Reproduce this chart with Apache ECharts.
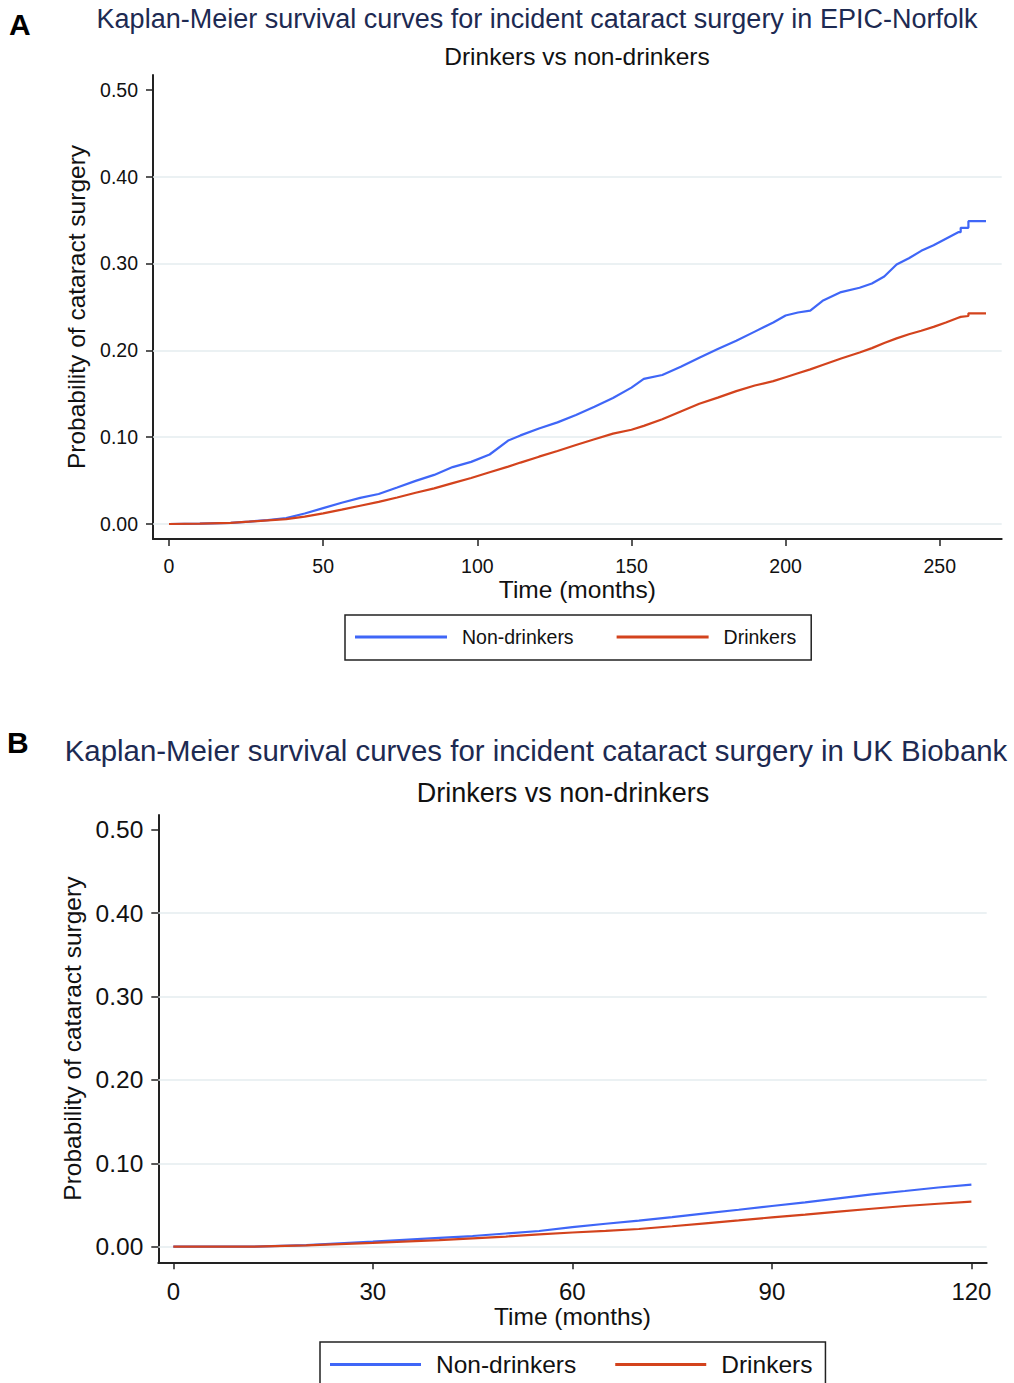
<!DOCTYPE html>
<html>
<head>
<meta charset="utf-8">
<script src="https://cdn.jsdelivr.net/npm/echarts@6/dist/echarts.min.js"></script>
<style>
html,body{margin:0;padding:0;background:#fff;}
#c{width:1014px;height:1383px;}
</style>
</head>
<body>
<div id="c"></div>
<script>
// ---------- Panel A: EPIC-Norfolk ----------
var aTitle = 'Kaplan-Meier survival curves for incident cataract surgery in EPIC-Norfolk';
var aSubtitle = 'Drinkers vs non-drinkers';
var aMonths = [0,10,20,26,32,38,44,50,56,62,68,74,80,86,92,98,104,110,114,120,126,132,138,144,150,154,160,166,172,178,184,190,196,200,204,208,212,218,224,228,232,236,240,244,248,252,256,256.8,256.8,259.3,259.3,265];
var aNonDrinkers = [0,0.0003,0.0012,0.0027,0.0045,0.0068,0.012,0.0183,0.0245,0.030,0.0345,0.042,0.0496,0.0565,0.0655,0.0715,0.080,0.096,0.102,0.110,0.117,0.1255,0.135,0.145,0.157,0.167,0.1715,0.181,0.1915,0.2015,0.211,0.2215,0.232,0.240,0.2435,0.2457,0.257,0.267,0.272,0.277,0.285,0.2987,0.306,0.3145,0.321,0.3285,0.336,0.336,0.341,0.341,0.3487,0.3487];
var aDrinkers = [0,0.0003,0.0012,0.0027,0.0042,0.0056,0.0085,0.0122,0.0165,0.021,0.0255,0.0305,0.036,0.041,0.047,0.053,0.0595,0.066,0.0707,0.0775,0.084,0.091,0.0975,0.104,0.1085,0.113,0.1205,0.1295,0.1385,0.1455,0.153,0.1595,0.1645,0.169,0.1735,0.178,0.183,0.1905,0.1975,0.2025,0.2085,0.2137,0.2185,0.2225,0.227,0.232,0.2375,0.2385,0.2385,0.2395,0.2426,0.2426];
var aXTicks = [0,50,100,150,200,250];
var aYTicks = [0,0.1,0.2,0.3,0.4,0.5];
var aGrid = [0,0.1,0.2,0.3,0.4];

// ---------- Panel B: UK Biobank ----------
var bTitle = 'Kaplan-Meier survival curves for incident cataract surgery in UK Biobank';
var bSubtitle = 'Drinkers vs non-drinkers';
var bMonths = [0,12,20,30,40,45,50,55,60,65,70,75,80,85,90,95,100,105,110,115,120];
var bNonDrinkers = [0,0,0.0018,0.006,0.0105,0.0128,0.0158,0.0188,0.0235,0.0275,0.0312,0.0355,0.040,0.0443,0.0488,0.0532,0.058,0.0628,0.0668,0.071,0.0745];
var bDrinkers = [0,0,0.0015,0.0045,0.0078,0.010,0.0122,0.0148,0.017,0.019,0.0212,0.0245,0.028,0.0315,0.0352,0.0385,0.042,0.0455,0.0488,0.0515,0.054];
var bXTicks = [0,30,60,90,120];
var bYTicks = [0,0.1,0.2,0.3,0.4,0.5];
var bGrid = [0,0.1,0.2,0.3,0.4];

var seriesNames = ['Non-drinkers','Drinkers'];
var xName = 'Time (months)';
var yName = 'Probability of cataract surgery';

var BLUE = '#3f66f7', RED = '#d3431d';
var FONT = 'Liberation Sans, Arial, sans-serif';
var TXT = '#111';
var NAVY = '#1d2a52';

function pairs(xs, ys){ return xs.map(function(x,i){ return [x, ys[i]]; }); }
function gridSeries(idx, vals){
  return {
    type:'line', xAxisIndex:idx, yAxisIndex:idx, data:[], silent:true, z:1,
    markLine:{ silent:true, symbol:['none','none'], z:1, label:{show:false},
      lineStyle:{color:'#e4ecef', width:1.5, type:'solid'},
      emphasis:{disabled:true},
      data: vals.map(function(v){ return {yAxis:v}; }) }
  };
}
function dataSeries(idx, name, xs, ys, color){
  return { type:'line', name:name, xAxisIndex:idx, yAxisIndex:idx, data:pairs(xs,ys),
    showSymbol:false, symbol:'none', color:color, z:3,
    lineStyle:{color:color, width:2.2}, emphasis:{disabled:true}, animation:false };
}
function fmt(v){ return v.toFixed(2); }
function axisLineStyle(){ return {show:true, onZero:false, lineStyle:{color:'#222', width:2}}; }

var chart = echarts.init(document.getElementById('c'), null, {renderer:'svg'});
var option = {
  animation:false,
  backgroundColor:'#fff',
  textStyle:{fontFamily:FONT},
  title:[
    {text:'A', left:9, top:9, padding:0, textStyle:{fontFamily:FONT, fontSize:30, fontWeight:'bold', color:'#000'}},
    {text:aTitle, left:537, top:5, padding:0, textAlign:'center', textStyle:{fontFamily:FONT, fontSize:27, fontWeight:'normal', color:NAVY}},
    {text:aSubtitle, left:577, top:44, padding:0, textAlign:'center', textStyle:{fontFamily:FONT, fontSize:24.5, fontWeight:'normal', color:TXT}},
    {text:'B', left:7, top:727, padding:0, textStyle:{fontFamily:FONT, fontSize:30, fontWeight:'bold', color:'#000'}},
    {text:bTitle, left:536, top:736, padding:0, textAlign:'center', textStyle:{fontFamily:FONT, fontSize:29.4, fontWeight:'normal', color:NAVY}},
    {text:bSubtitle, left:563, top:779, padding:0, textAlign:'center', textStyle:{fontFamily:FONT, fontSize:27, fontWeight:'normal', color:TXT}}
  ],
  grid:[
    {left:153, right:12.3, top:75, bottom:844},
    {left:158.3, right:27.3, top:815, bottom:120.7}
  ],
  xAxis:[
    {type:'value', gridIndex:0, min:-5.2, max:270.1,
      name:xName, nameLocation:'middle', nameGap:34, nameTextStyle:{fontSize:24.5, color:TXT, fontFamily:FONT},
      axisLine:axisLineStyle(),
      axisTick:{show:true, length:7, customValues:aXTicks, lineStyle:{color:'#222', width:1.5}},
      axisLabel:{customValues:aXTicks, fontSize:19.5, color:TXT, margin:17, fontFamily:FONT},
      splitLine:{show:false}},
    {type:'value', gridIndex:1, min:-2.26, max:122.3,
      name:xName, nameLocation:'middle', nameGap:38, nameTextStyle:{fontSize:24.5, color:TXT, fontFamily:FONT},
      axisLine:axisLineStyle(),
      axisTick:{show:true, length:7, customValues:bXTicks, lineStyle:{color:'#222', width:1.5}},
      axisLabel:{customValues:bXTicks, fontSize:24, color:TXT, margin:17, fontFamily:FONT},
      splitLine:{show:false}}
  ],
  yAxis:[
    {type:'value', gridIndex:0, min:-0.0173, max:0.517,
      name:yName, nameLocation:'middle', nameGap:63, nameRotate:90, nameTextStyle:{fontSize:24.5, color:TXT, fontFamily:FONT},
      axisLine:axisLineStyle(),
      axisTick:{show:true, length:7, customValues:aYTicks, lineStyle:{color:'#222', width:1.5}},
      axisLabel:{customValues:aYTicks, fontSize:19.5, color:TXT, margin:15, formatter:fmt, fontFamily:FONT},
      splitLine:{show:false}},
    {type:'value', gridIndex:1, min:-0.0187, max:0.5176,
      name:yName, nameLocation:'middle', nameGap:62, nameRotate:90, nameTextStyle:{fontSize:24.5, color:TXT, fontFamily:FONT},
      axisLine:axisLineStyle(),
      axisTick:{show:true, length:7, customValues:bYTicks, lineStyle:{color:'#222', width:1.5}},
      axisLabel:{customValues:bYTicks, fontSize:24.5, color:TXT, margin:15, formatter:fmt, fontFamily:FONT},
      splitLine:{show:false}}
  ],
  legend:[
    {data:seriesNames, left:345, top:615, orient:'horizontal', icon:'rect', itemWidth:92, itemHeight:3,
      itemGap:43, padding:[12,15,13,10], borderColor:'#222', borderWidth:1.5, selectedMode:false,
      textStyle:{fontSize:19.5, color:TXT, fontFamily:FONT, padding:[0,0,0,10]}},
    {data:seriesNames, left:320, top:1342, orient:'horizontal', icon:'rect', itemWidth:91, itemHeight:3,
      itemGap:39, padding:[10,13,14,10], borderColor:'#222', borderWidth:1.5, selectedMode:false,
      textStyle:{fontSize:24.5, color:TXT, fontFamily:FONT, padding:[0,0,0,10]}}
  ],
  series:[
    gridSeries(0, aGrid),
    gridSeries(1, bGrid),
    dataSeries(0, seriesNames[0], aMonths, aNonDrinkers, BLUE),
    dataSeries(0, seriesNames[1], aMonths, aDrinkers, RED),
    dataSeries(1, seriesNames[0], bMonths, bNonDrinkers, BLUE),
    dataSeries(1, seriesNames[1], bMonths, bDrinkers, RED)
  ]
};
chart.setOption(option);
</script>
</body>
</html>
